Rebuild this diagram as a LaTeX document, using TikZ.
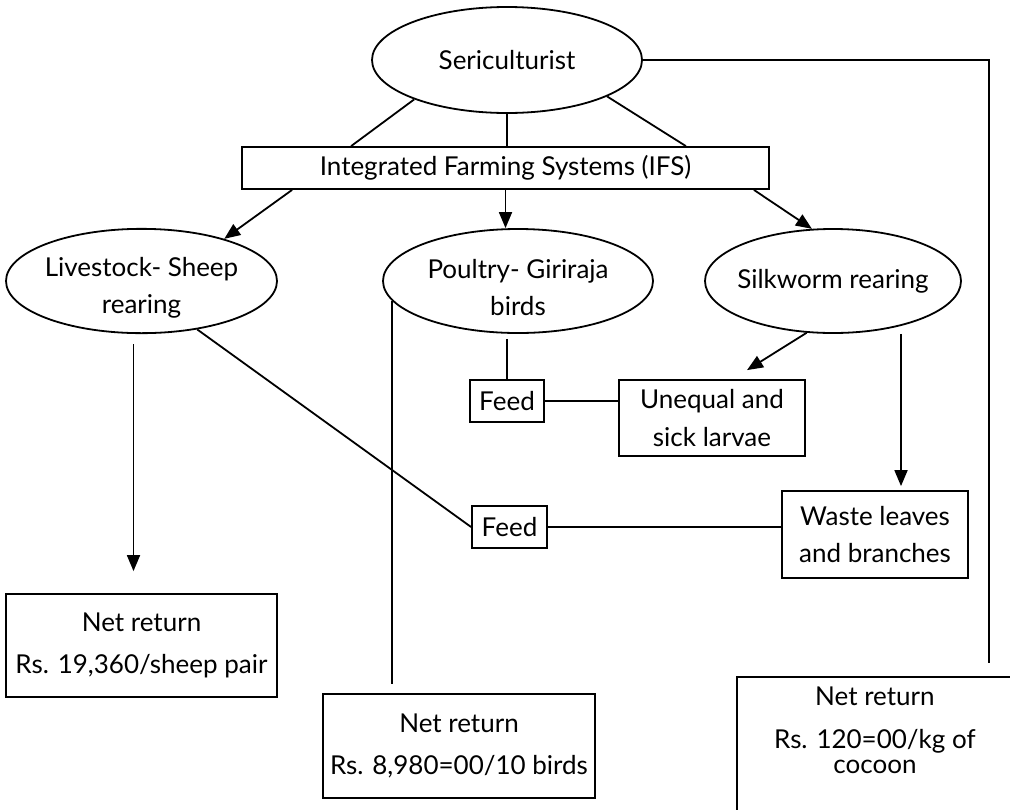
\documentclass[tikz,border=0pt]{standalone}
\usepackage{fontspec}
\setmainfont{Lato}
\usetikzlibrary{shapes.geometric,arrows.meta}

\begin{document}
\begin{tikzpicture}[x=0.5pt, y=-0.5pt, line width=0.9pt,
    >={Triangle[length=8pt,width=6.5pt]},
    font=\fontsize{13}{15.5}\selectfont,
    oval/.style={draw, ellipse, inner ysep=0pt, inner xsep=-10pt, align=center},
    box/.style={draw, rectangle, inner sep=0pt, align=center}]
    \useasboundingbox (0,0) rectangle (1010,809);

    % Top
    \node[oval, minimum width=135pt, minimum height=53pt] (seri) at (507,60) {Sericulturist};
    \node[box, minimum width=263.5pt, minimum height=21pt] (ifs) at (505.5,168) {Integrated Farming Systems (IFS)};

    % Enterprises
    \node[oval, minimum width=135.5pt, minimum height=52pt] (live) at (141.5,281) {\rule{0pt}{16pt}Livestock- Sheep\\[3pt]rearing};
    \node[oval, minimum width=135pt, minimum height=52pt] (poul) at (518,281) {\rule{0pt}{16pt}Poultry- Giriraja\\[3pt]birds};
    \node[oval, minimum width=128pt, minimum height=52pt] (silk) at (833,281) {Silkworm rearing};

    % Feed and wastes
    \node[box, minimum width=37pt, minimum height=21pt] (feedA) at (507,401) {Feed};
    \node[box, minimum width=93pt, minimum height=38pt] (uneq) at (712,418) {Unequal and\\[3.5pt]sick larvae};
    \node[box, minimum width=37.5pt, minimum height=21pt] (feedB) at (509.5,527) {Feed};
    \node[box, minimum width=93pt, minimum height=43.5pt] (waste) at (875,534.5) {Waste leaves\\[3pt]and branches};

    % Net returns
    \node[box, minimum width=135.5pt, minimum height=51.5pt] (netA) at (141.5,645.5) {Net return\\[5.5pt]Rs. 19,360/sheep pair};
    \node[box, minimum width=136pt, minimum height=52pt] (netB) at (459,746) {Net return\\[5.5pt]Rs. 8,980=00/10 birds};
    \node[box, anchor=north west, minimum width=138pt, inner ysep=5pt, text depth=70pt] (netC) at (736,676) {Net return\\[6pt]Rs. 120=00/kg of\\[-3pt]cocoon};

    % Sericulturist to IFS
    \draw (seri.203) -- ([xshift=55pt]ifs.north west);
    \draw (seri.south) -- (seri.south |- ifs.north);
    \draw (seri.-20) -- ([xshift=-42pt]ifs.north east);

    % IFS to enterprises
    \draw[->] ([xshift=25.5pt]ifs.south west) -- (live.27);
    \draw[->] (ifs.south) -- (ifs.south |- poul.north);
    \draw[->] ([xshift=-8pt]ifs.south east) -- (silk.112);

    % Sheep
    \draw[->] ([xshift=-4pt,yshift=-5pt]live.south) -- ([xshift=-4pt,yshift=11pt]netA.north);
    \draw (live.-41) -- (feedB.west);

    % Poultry
    \draw ([yshift=-2.5pt]poul.south -| feedA.north) -- (feedA.north);
    \draw (feedA.east) -- (feedA.east -| uneq.west);
    \draw (feedB.east) -- (feedB.east -| waste.west);
    \draw (poul.189) -- ([yshift=4.5pt]poul.189 |- netB.north);

    % Silkworm
    \draw[->] (silk.-117) -- ([xshift=17.5pt,yshift=4.5pt]uneq.north);
    \draw[->] ([xshift=34pt]silk.south) -- ([xshift=34pt,yshift=2pt]silk.south |- waste.north);
    \coordinate (cocoon) at (989,663);
    \draw (seri.east) -| (cocoon);
\end{tikzpicture}
\end{document}
